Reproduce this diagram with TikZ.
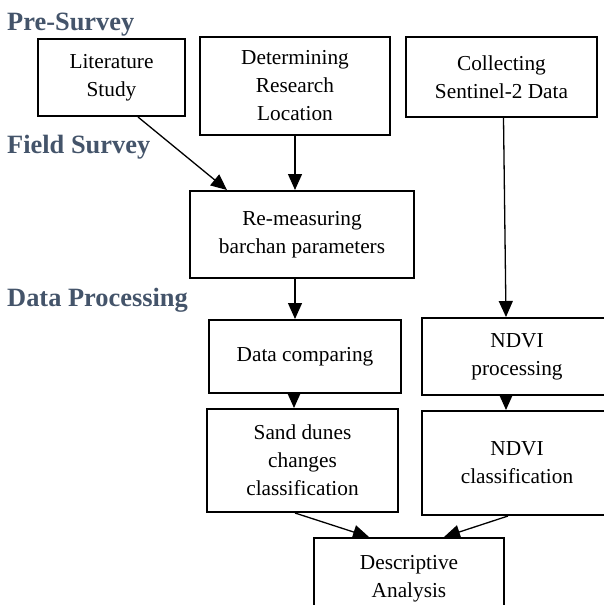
\documentclass[tikz,border=0pt]{standalone}
\usepackage{fontspec}
\setmainfont{Liberation Serif}
\usepackage{tikz}
\usetikzlibrary{positioning,arrows.meta}
\definecolor{stagegray}{HTML}{44546A}

\tikzset{
  box/.style={draw, line width=2pt, align=center, inner sep=0pt,
    font=\fontsize{21.3pt}{28pt}\selectfont},
  stage/.style={anchor=base west, inner sep=0pt, text=stagegray,
    font=\fontsize{26.4pt}{30pt}\selectfont\bfseries},
  flow/.style={-{Triangle[length=16pt, width=14pt]}, line width=1.3pt}
}

\begin{document}
\begin{tikzpicture}[x=1pt, y=1pt]
        \useasboundingbox (0,0) rectangle (604,-605);

        % STAGES
        % -----------------
        \node[stage] (pre) at (7,-30) {Pre-Survey};
        \node[stage] (field) at (7,-153) {Field Survey};
        \node[stage] (proc) at (7,-306) {Data Processing};

        % NODES
        % -----------------
        \node[box, minimum width=147pt, minimum height=77pt] (lit) at (111.5,-77.5) {Literature\\Study};
        \node[box, minimum width=190pt, minimum height=98pt, right=13pt of lit, yshift=-8.5pt] (det) {Determining\\Research\\Location};
        \node[box, minimum width=191pt, minimum height=80pt, right=14pt of det, yshift=9pt] (col) {Collecting\\Sentinel-2 Data};
        \node[box, minimum width=224pt, minimum height=87pt, below=54pt of det, xshift=7pt] (rem) {Re-measuring\\barchan parameters};
        \node[box, minimum width=192pt, minimum height=73pt, below=40pt of rem, xshift=3pt] (dcomp) {Data comparing};
        \node[box, minimum width=190pt, minimum height=77pt, right=19pt of dcomp] (ndvip) {NDVI\\processing};
        \node[box, minimum width=191pt, minimum height=103pt, below=14pt of dcomp, xshift=-2.5pt] (sand) {Sand dunes\\changes\\classification};
        \node[box, minimum width=190pt, minimum height=104pt, below=14pt of ndvip] (ndvic) {NDVI\\classification};
        \node[box, minimum width=190pt, minimum height=82pt, below=24pt of sand, xshift=106.5pt] (desc) {Descriptive\\Analysis};

        % EDGES
        % -----------------
        \draw[flow] ([xshift=26.5pt]lit.south) -- ([xshift=-75pt]rem.north);
        \draw[flow] (det.south) -- (det.south |- rem.north);
        \draw[flow] ([xshift=2pt]col.south) -- ([xshift=-11pt]ndvip.north);
        \draw[flow] ([xshift=-7pt]rem.south) -- ([xshift=-10pt]dcomp.north);
        \draw[flow] ([xshift=-11pt]dcomp.south) -- ([xshift=-8.5pt]sand.north);
        \draw[flow] ([xshift=-11pt]ndvip.south) -- ([xshift=-11pt]ndvic.north);
        \draw[flow] ([xshift=-7.5pt]sand.south) -- ([xshift=-40pt]desc.north);
        \draw[flow] ([xshift=-9pt]ndvic.south) -- ([xshift=35pt]desc.north);

    \end{tikzpicture}
\end{document}
